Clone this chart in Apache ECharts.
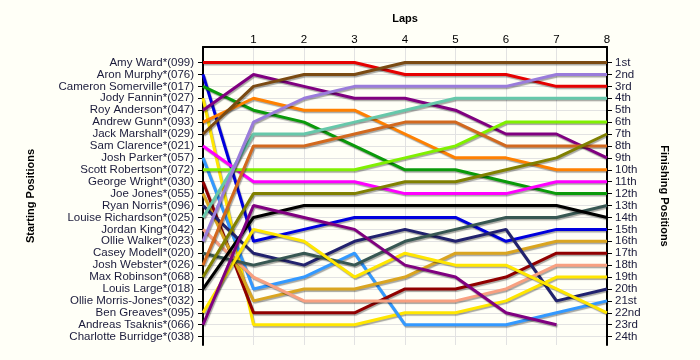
<!DOCTYPE html>
<html>
<head>
<meta charset="utf-8">
<script src="https://cdn.jsdelivr.net/npm/echarts@6/dist/echarts.min.js"></script>
<style>
html,body{margin:0;padding:0;background:#FFFFF7;}
#chart{width:700px;height:360px;}
</style>
</head>
<body>
<div id="chart"></div>
<script>
// Laps (x axis)
const laps = [0, 1, 2, 3, 4, 5, 6, 7, 8];
const lapLabels = ['', '1', '2', '3', '4', '5', '6', '7', '8'];

// Starting grid (position 1..24)
const startLabels = [
  'Amy Ward*(099)', 'Aron Murphy*(076)', 'Cameron Somerville*(017)', 'Jody Fannin*(027)',
  'Roy Anderson*(047)', 'Andrew Gunn*(093)', 'Jack Marshall*(029)', 'Sam Clarence*(021)',
  'Josh Parker*(057)', 'Scott Robertson*(072)', 'George Wright*(030)', 'Joe Jones*(055)',
  'Ryan Norris*(096)', 'Louise Richardson*(025)', 'Jordan King*(042)', 'Ollie Walker*(023)',
  'Casey Modell*(020)', 'Josh Webster*(026)', 'Max Robinson*(068)', 'Louis Large*(018)',
  'Ollie Morris-Jones*(032)', 'Ben Greaves*(095)', 'Andreas Tsaknis*(066)', 'Charlotte Burridge*(038)'
];

// Finishing positions labels
const finishLabels = [
  '1st', '2nd', '3rd', '4th', '5th', '6th', '7th', '8th', '9th', '10th', '11th', '12th',
  '13th', '14th', '15th', '16th', '17th', '18th', '19th', '20th', '21st', '22nd', '23rd', '24th'
];

// Position of each driver at laps 0..8
const amyWard        = [1, 1, 1, 1, 2, 2, 2, 3, 3];
const aronMurphy     = [2, 16, 15, 14, 14, 14, 16, 15, 15];
const cameronSomerville = [3, 5, 6, 8, 10, 10, 11, 12, 12];
const jodyFannin     = [4, 23, 23, 23, 22, 22, 21, 19, 19];
const royAnderson    = [5, 2, 3, 4, 4, 5, 7, 7, 9];
const andrewGunn     = [6, 4, 5, 5, 7, 9, 9, 10, 10];
const jackMarshall   = [7, 3, 2, 2, 1, 1, 1, 1, 1];
const samClarence    = [8, 11, 11, 11, 12, 12, 12, 11, 11];
const joshParker     = [9, 20, 19, 17, 23, 23, 23, 22, 21];
const scottRobertson = [10, 10, 10, 10, 9, 8, 6, 6, 6];
const georgeWright   = [11, 22, 22, 22, 20, 20, 19, 17, 17];
const joeJones       = [12, 21, 20, 20, 19, 17, 17, 16, 16];
const ryanNorris     = [13, 17, 18, 16, 15, 16, 15, 21, 20];
const louiseRichardson = [14, 7, 7, 6, 5, 4, 4, 4, 4];
const jordanKing     = [15, 19, 21, 21, 21, 21, 20, 18, 18];
const ollieWalker    = [16, 6, 4, 3, 3, 3, 3, 2, 2];
const caseyModell    = [17, 18, 17, 18, 16, 15, 14, 14, 13];
const joshWebster    = [18, 8, 8, 7, 6, 6, 8, 8, 8];
const maxRobinson    = [19, 12, 12, 12, 11, 11, 10, 9, 7];
const louisLarge     = [20, 14, 13, 13, 13, 13, 13, 13, 14];
const benGreaves     = [22, 15, 16, 19, 17, 18, 18, 20, 22];
const andreasTsaknis = [23, 13, 14, 15, 18, 19, 22, 23, null];

const drivers = [
  ['Amy Ward', amyWard, '#E60000'],
  ['Aron Murphy', aronMurphy, '#0000DD'],
  ['Cameron Somerville', cameronSomerville, '#0A9A0A'],
  ['Jody Fannin', jodyFannin, '#FFE600'],
  ['Roy Anderson', royAnderson, '#800080'],
  ['Andrew Gunn', andrewGunn, '#FF8000'],
  ['Jack Marshall', jackMarshall, '#7A4A12'],
  ['Sam Clarence', samClarence, '#FF00FF'],
  ['Josh Parker', joshParker, '#3399FF'],
  ['Scott Robertson', scottRobertson, '#80F000'],
  ['George Wright', georgeWright, '#900000'],
  ['Joe Jones', joeJones, '#DAA520'],
  ['Ryan Norris', ryanNorris, '#22226E'],
  ['Louise Richardson', louiseRichardson, '#66C8AA'],
  ['Jordan King', jordanKing, '#F8A080'],
  ['Ollie Walker', ollieWalker, '#9A7CDB'],
  ['Casey Modell', caseyModell, '#375752'],
  ['Josh Webster', joshWebster, '#D2691E'],
  ['Max Robinson', maxRobinson, '#808000'],
  ['Louis Large', louisLarge, '#000000'],
  ['Ben Greaves', benGreaves, '#FFE600'],
  ['Andreas Tsaknis', andreasTsaknis, '#800080']
];

const positions = startLabels.map((_, i) => i + 1);
const FONT = '"Liberation Sans", Arial, sans-serif';

const chart = echarts.init(document.getElementById('chart'), null, {renderer: 'canvas'});

const yCommon = {
  type: 'value',
  inverse: true,
  min: -0.3,
  max: 24.7,
  axisLine: {show: true, onZero: false, lineStyle: {color: '#000', width: 2}},
  axisTick: {show: true, length: 5, customValues: positions, lineStyle: {color: '#000', width: 1}},
  splitLine: {show: false},
  nameLocation: 'middle',
  nameTextStyle: {fontFamily: FONT, fontWeight: 'bold', fontSize: 11, color: '#000'}
};

chart.setOption({
  backgroundColor: '#FFFFF7',
  animation: false,
  grid: {left: 203, right: 93, top: 47, bottom: 15, containLabel: false},
  xAxis: {
    type: 'value',
    position: 'top',
    min: 0,
    max: 8,
    interval: 1,
    name: 'Laps',
    nameLocation: 'middle',
    nameGap: 23,
    nameTextStyle: {fontFamily: FONT, fontWeight: 'bold', fontSize: 11, color: '#000'},
    axisLine: {show: true, onZero: false, lineStyle: {color: '#000', width: 2}},
    axisTick: {show: false},
    axisLabel: {
      margin: 1,
      fontFamily: FONT, fontSize: 11.5, color: '#000',
      formatter: v => lapLabels[v] || ''
    },
    splitLine: {show: true, lineStyle: {color: '#E2E2E2', width: 1}}
  },
  yAxis: [
    Object.assign({}, yCommon, {
      position: 'left',
      name: 'Starting Positions',
      nameGap: 167,
      nameRotate: 90,
      splitLine: {show: true, lineStyle: {color: '#E2E2E2', width: 1}},
      axisLabel: {
        margin: 9,
        customValues: positions,
        fontFamily: FONT, fontSize: 11.5, color: '#1A1A3A',
        formatter: v => startLabels[Math.round(v) - 1] || ''
      }
    }),
    Object.assign({}, yCommon, {
      position: 'right',
      name: 'Finishing Positions',
      nameGap: 52,
      nameRotate: -90,
      axisLabel: {
        margin: 8,
        customValues: positions,
        fontFamily: FONT, fontSize: 11.5, color: '#1A1A3A',
        formatter: v => finishLabels[Math.round(v) - 1] || ''
      }
    })
  ],
  series: drivers.map(([name, pos, color]) => ({
    name: name,
    type: 'line',
    yAxisIndex: 0,
    data: laps.map((lap, i) => [lap, pos[i]]),
    showSymbol: false,
    symbol: 'none',
    connectNulls: false,
    lineStyle: {
      color: color,
      width: 3,
      shadowColor: 'rgba(0,0,0,0.35)',
      shadowBlur: 1,
      shadowOffsetX: 1,
      shadowOffsetY: 1.5
    },
    emphasis: {disabled: true}
  }))
});
</script>
</body>
</html>
